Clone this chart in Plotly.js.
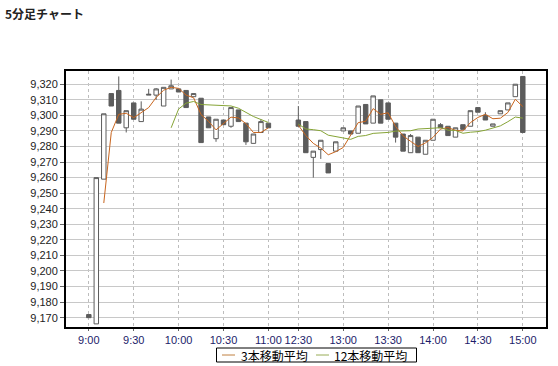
<!DOCTYPE html>
<html>
<head>
<meta charset="utf-8">
<script src="https://cdn.plot.ly/plotly-3.0.1.min.js"></script>
<style>html,body{margin:0;padding:0;background:#fff;}#chart{width:558px;height:366px;}</style>
</head>
<body>
<div id="chart"></div>
<script>
// Bar times (5-minute bars)
const barTimes = [
  "9:00","9:05","9:10","9:15","9:20","9:25","9:30","9:35","9:40","9:45","9:50","9:55",
  "10:00","10:05","10:10","10:15","10:20","10:25","10:30","10:35","10:40","10:45","10:50","10:55","11:00",
  "12:30","12:35","12:40","12:45","12:50","12:55","13:00","13:05","13:10","13:15","13:20","13:25",
  "13:30","13:35","13:40","13:45","13:50","13:55","14:00","14:05","14:10","14:15","14:20","14:25",
  "14:30","14:35","14:40","14:45","14:50","14:55","15:00"
];
const openP = [
  9172,9166,9259,9314,9316,9292,9308,9296,9313,9313,9306,9317,
  9317,9316,9312,9311,9299,9285,9297,9293,9303.5,9295,9282,9289,9295,
  9297,9296,9273,9278,9269,9277,9290,9290,9288.5,9307,9295,9310,
  9308,9295,9288,9276,9286,9275,9284,9294,9293,9286,9294,9293,
  9305,9300,9293,9301,9303.5,9312,9325
];
const highP = [
  9172,9260,9301,9314,9325,9303,9308,9309,9317,9317.5,9318,9323,
  9317,9316,9314,9311,9299,9297.5,9297,9305,9303.5,9295,9288,9297.5,9295,
  9306,9296,9277,9284,9269,9283,9292,9290,9306,9307,9312.5,9310,
  9308,9295,9288,9288,9286,9284,9297.5,9295,9293,9292,9294,9303,
  9305,9302,9294.5,9303,9308,9320,9325
];
const lowP = [
  9170,9166,9259,9306,9295,9289,9297.5,9296,9313,9310,9306,9317,
  9315,9305,9312,9282.5,9292,9283,9294,9292,9296,9281,9282,9289,9292,
  9293,9276,9260,9272,9263,9277,9290,9288,9288.5,9294.5,9295,9295,
  9297.5,9282.5,9277,9276,9276,9275,9284,9292,9287,9286,9291,9293,
  9302,9297,9293,9301,9303.5,9312,9289
];
const closeP = [
  9170,9260,9301,9306,9295,9303,9297.5,9304,9313.5,9317,9318,9319,
  9315,9305,9314,9282.5,9292,9297.5,9294,9305,9296,9283,9288,9296,9292,
  9293,9276,9277,9284,9263,9283,9292,9288,9306,9294.5,9312.5,9295,
  9297.5,9286,9277,9287,9276,9284,9297.5,9292,9287,9292,9291,9303,
  9302,9297,9294.5,9303,9308,9320,9289
];
const tickLabels = ["9:00","9:30","10:00","10:30","11:00","12:30","13:00","13:30","14:00","14:30","15:00"];
const maShortN = 3, maLongN = 12;
const maShortName = "3本移動平均", maLongName = "12本移動平均";
const maShortColor = "#c8651e", maLongColor = "#86a436";

// Map a time to its slot on the session axis (lunch break compressed)
function slot(t){
  const [h,m] = t.split(":").map(Number);
  const mins = h*60+m;
  return mins <= 11*60 ? (mins-540)/5 : 28 + (mins-750)/5;
}
const xs = barTimes.map(slot);

function movingAvg(vals, n){
  return vals.map((v,i)=> i < n-1 ? null : vals.slice(i-n+1,i+1).reduce((a,b)=>a+b,0)/n);
}
// insert a break between sessions for the lines
function withBreak(arrX, arrY){
  const ox=[], oy=[];
  for(let i=0;i<arrX.length;i++){
    if(i>0 && arrX[i]-arrX[i-1] > 1){ ox.push((arrX[i]+arrX[i-1])/2); oy.push(null); }
    ox.push(arrX[i]); oy.push(arrY[i]);
  }
  return {x:ox, y:oy};
}
const ma3 = withBreak(xs, movingAvg(closeP, maShortN));
const ma12 = withBreak(xs, movingAvg(closeP, maLongN));

const traces = [
  {
    type:"candlestick", x:xs, open:openP, high:highP, low:lowP, close:closeP,
    increasing:{line:{color:"#5c5c5c", width:1}, fillcolor:"#ffffff"},
    decreasing:{line:{color:"#5c5c5c", width:1}, fillcolor:"#5c5c5c"},
    whiskerwidth:0, showlegend:false, hoverinfo:"skip"
  },
  {type:"scatter", mode:"lines", x:ma3.x, y:ma3.y, name:maShortName,
   line:{color:maShortColor, width:1}, connectgaps:false, hoverinfo:"skip", showlegend:false},
  {type:"scatter", mode:"lines", x:ma12.x, y:ma12.y, name:maLongName,
   line:{color:maLongColor, width:1}, connectgaps:false, hoverinfo:"skip", showlegend:false}
];

const tickVals = tickLabels.map(slot);

// custom legend box (paper coordinates)
const PL=66, PW=480, PB=327, PH=256;
const px = v => (v-PL)/PW, py = v => (PB-v)/PH;
const legY = py(355);
const shapes = [
  {type:"rect", xref:"paper", yref:"paper", x0:px(216.5), x1:px(416.5), y0:py(362), y1:py(348),
   line:{color:"#000", width:1}, fillcolor:"#fff"},
  {type:"line", xref:"paper", yref:"paper", x0:px(222), x1:px(235), y0:legY, y1:legY,
   line:{color:"#c08040", width:1}},
  {type:"line", xref:"paper", yref:"paper", x0:px(316), x1:px(329), y0:legY, y1:legY,
   line:{color:"#98ac56", width:1}}
];
const annotations = [
  {xref:"paper", yref:"paper", x:px(239), y:legY, xanchor:"left", yanchor:"middle", showarrow:false,
   text:maShortName, font:{family:"Noto Sans CJK JP", size:12, color:"#000"}},
  {xref:"paper", yref:"paper", x:px(332), y:legY, xanchor:"left", yanchor:"middle", showarrow:false,
   text:maLongName, font:{family:"Noto Sans CJK JP", size:12, color:"#000"}}
];

const layout = {
  width:558, height:366,
  margin:{l:66, r:12, t:71, b:39, autoexpand:false},
  paper_bgcolor:"#ffffff", plot_bgcolor:"#ffffff",
  font:{family:"Liberation Sans, Arial, sans-serif", size:11, color:"#222"},
  title:{text:"<b>5分足チャート</b>", x:5/558, xref:"container", xanchor:"left",
         y:1-15/366, yref:"container", yanchor:"middle",
         font:{family:"Noto Sans CJK JP", size:12, color:"#222"}},
  boxgap:0.15, boxgroupgap:0.3,
  showlegend:false,
  shapes:shapes, annotations:annotations,
  xaxis:{
    range:[-3.05, 61.1], tickmode:"array", tickvals:tickVals, ticktext:tickLabels,
    showgrid:true, gridcolor:"#bdbdbd", griddash:"dot", gridwidth:1,
    zeroline:false, showline:true, linecolor:"#000", linewidth:2, mirror:true,
    ticks:"outside", ticklen:2, tickcolor:"#666",
    tickfont:{family:"Liberation Sans, Arial, sans-serif", size:11, color:"#1c1c6a"},
    rangeslider:{visible:false}, fixedrange:true
  },
  yaxis:{
    range:[9164.0, 9328.5], dtick:10, tick0:9170, tickformat:",",
    showgrid:true, gridcolor:"#c8c8c8", gridwidth:1,
    zeroline:false, showline:true, linecolor:"#000", linewidth:2, mirror:true,
    ticks:"outside", ticklen:4, tickcolor:"#666",
    tickfont:{family:"Liberation Sans, Arial, sans-serif", size:11, color:"#222"},
    fixedrange:true
  }
};

Plotly.newPlot("chart", traces, layout, {staticPlot:true, displayModeBar:false});
</script>
</body>
</html>
